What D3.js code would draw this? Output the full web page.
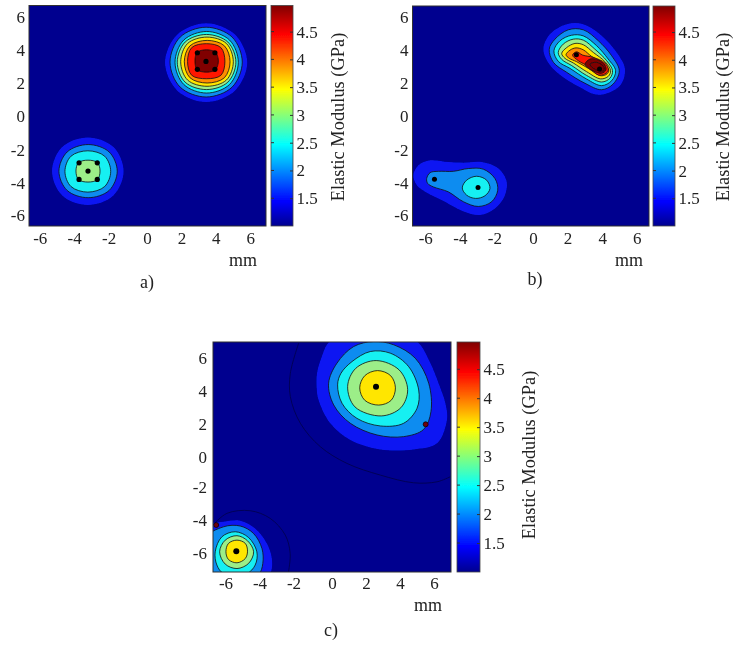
<!DOCTYPE html>
<html><head><meta charset="utf-8">
<style>html,body{margin:0;padding:0;background:#fff}svg{display:block}
text{font-family:"Liberation Serif","Times New Roman",serif;fill:#222}</style>
<script src="https://cdnjs.cloudflare.com/ajax/libs/d3/7.8.5/d3.min.js"></script></head>
<body><div id="chart"></div>
<script>
// Tick labels and text
const xyTicks = [-6,-4,-2,0,2,4,6];
const barTicks = [1.5,2,2.5,3,3.5,4,4.5];
const barLabel = "Elastic Modulus (GPa)";
const unitLabel = "mm";
// Colour bar: value range and jet colour stops (fraction, colour)
const barRange = [1.0,4.97];
const jetStops = [[0,"#00008f"],[0.11,"#0000ff"],[0.37,"#00ffff"],[0.62,"#ffff00"],[0.87,"#ff0000"],[1,"#800000"]];
// Filled band colours, lowest to highest
const bandColors = ["#00008f","#0a18f2","#0d8cf0","#14f0f2","#9cee88","#ffe600","#ff8c00","#ff1400","#800000"];

// Contours: [band index, [[x mm, y mm], ...]]
const panelAContours = [
 [1,[[5.83,3.23],[5.13,4.92],[3.44,5.62],[1.75,4.92],[1.05,3.23],[1.75,1.54],[3.44,.84],[5.13,1.54]]],
 [2,[[5.54,3.26],[4.95,4.78],[3.44,5.38],[1.93,4.78],[1.34,3.26],[1.93,1.74],[3.44,1.14],[4.95,1.74]]],
 [3,[[5.31,3.25],[4.8,4.6],[3.47,5.12],[2.14,4.6],[1.63,3.25],[2.14,1.9],[3.47,1.38],[4.8,1.9]]],
 [4,[[5.17,3.26],[4.7,4.48],[3.46,4.94],[2.22,4.48],[1.76,3.26],[2.22,2.04],[3.46,1.59],[4.7,2.04]]],
 [5,[[5.02,3.28],[4.62,4.39],[3.49,4.78],[2.36,4.39],[1.96,3.28],[2.36,2.17],[3.49,1.79],[4.62,2.17]]],
 [6,[[4.83,3.28],[4.5,4.25],[3.5,4.58],[2.5,4.25],[2.17,3.28],[2.5,2.31],[3.5,1.99],[4.5,2.31]]],
 [7,[[4.53,3.3],[4.3,4.14],[3.45,4.38],[2.6,4.14],[2.36,3.3],[2.6,2.46],[3.45,2.25],[4.3,2.46]]],
 [8,[[4.15,3.33],[3.98,3.85],[3.47,4.01],[2.92,3.85],[2.79,3.33],[2.92,2.8],[3.47,2.65],[3.98,2.8]]],
 [1,[[-1.36,-3.37],[-1.95,-1.9],[-3.44,-1.32],[-4.93,-1.9],[-5.52,-3.37],[-4.93,-4.84],[-3.44,-5.42],[-1.95,-4.84]]],
 [2,[[-1.73,-3.37],[-2.2,-2.2],[-3.42,-1.75],[-4.64,-2.2],[-5.12,-3.37],[-4.64,-4.54],[-3.42,-4.98],[-2.2,-4.54]]],
 [3,[[-2.11,-3.38],[-2.46,-2.46],[-3.44,-2.13],[-4.42,-2.46],[-4.77,-3.38],[-4.42,-4.3],[-3.44,-4.64],[-2.46,-4.3]]],
 [4,[[-2.73,-3.36],[-2.88,-2.85],[-3.43,-2.7],[-3.98,-2.85],[-4.13,-3.36],[-3.98,-3.88],[-3.43,-4.03],[-2.88,-3.88]]]
];
const panelAPoints = [[2.93,3.83],[3.95,3.83],[2.93,2.82],[3.95,2.82],[3.43,3.30],[-3.95,-2.86],[-2.89,-2.86],[-3.95,-3.87],[-2.89,-3.87],[-3.43,-3.36]];

const panelBContours = [
 [1,[[.6,4.07],[.98,4.98],[1.95,5.59],[2.91,5.59],[3.87,4.98],[4.84,3.87],[5.32,2.86],[5.03,1.85],[3.78,1.29],[2.72,1.75],[1.75,2.36],[.98,3.1]]],
 [2,[[.94,4.07],[1.27,4.68],[2.04,5.25],[2.91,5.25],[3.78,4.58],[4.55,3.67],[4.99,2.76],[4.64,1.95],[3.97,1.6],[3.01,1.99],[1.95,2.66],[1.18,3.27]]],
 [3,[[1.21,3.97],[1.56,4.58],[2.23,4.92],[2.91,4.88],[3.68,4.28],[4.35,3.47],[4.78,2.76],[4.55,2.15],[3.97,1.85],[3.1,2.25],[2.14,2.9],[1.46,3.33]]],
 [4,[[1.46,3.87],[1.75,4.38],[2.33,4.68],[2.91,4.62],[3.58,4.07],[4.26,3.37],[4.6,2.76],[4.45,2.3],[3.97,2.07],[3.1,2.47],[2.24,3.07],[1.66,3.45]]],
 [5,[[1.66,3.81],[1.95,4.17],[2.43,4.42],[2.91,4.34],[3.49,3.87],[4.16,3.31],[4.49,2.76],[4.36,2.42],[3.91,2.26],[3.1,2.7],[2.33,3.23],[1.85,3.51]]],
 [6,[[1.91,3.73],[2.14,4.01],[2.49,4.15],[2.91,4.03],[3.39,3.63],[4.07,3.23],[4.39,2.76],[4.22,2.52],[3.87,2.46],[3.2,2.9],[2.52,3.31],[2.1,3.51]]],
 [7,[[2.29,3.71],[2.52,3.91],[2.87,3.71],[3.49,3.57],[4.16,3.23],[4.36,2.8],[4.16,2.56],[3.78,2.5],[3.2,3.02],[2.62,3.37]]],
 [8,[[3.01,3.16],[3.3,3.47],[3.78,3.41],[4.16,3.1],[4.22,2.8],[3.97,2.6],[3.58,2.7],[3.2,2.92]]],
 [8,[[3.3,3.16],[3.68,3.27],[4.07,3.02],[4.1,2.76],[3.78,2.76],[3.49,2.9]]],
 [1,[[-6.92,-3.61],[-6.63,-3.0],[-5.95,-2.7],[-4.9,-2.8],[-4.03,-2.84],[-2.97,-2.8],[-2.0,-3.2],[-1.52,-4.01],[-1.66,-4.92],[-2.2,-5.63],[-3.06,-6.03],[-4.12,-5.77],[-5.09,-5.22],[-6.24,-4.62],[-6.73,-4.21]]],
 [2,[[-6.15,-3.81],[-5.95,-3.45],[-5.47,-3.37],[-4.61,-3.37],[-3.74,-3.2],[-2.87,-3.24],[-2.2,-3.81],[-2.04,-4.52],[-2.39,-5.22],[-3.16,-5.51],[-4.03,-5.22],[-4.9,-4.62],[-5.76,-4.32],[-6.09,-4.11]]],
 [3,[[-4.09,-4.38],[-3.84,-3.91],[-3.26,-3.67],[-2.68,-3.91],[-2.49,-4.42],[-2.78,-4.86],[-3.32,-5.02],[-3.84,-4.82]]]
];
const panelBPoints = [[2.51,3.73],[3.85,2.86],[-5.70,-3.85],[-3.18,-4.36]];

const panelCContours = [
 [1,[[-.14,7.03],[-.6,6.1],[-.88,5.1],[-.9,4.2],[-.79,3.47],[-.1,2.05],[1.08,1.03],[2.84,.46],[4.8,.46],[6.18,.83],[6.76,2.25],[6.67,3.27],[6.3,4.4],[5.75,5.8],[5.0,7.03],[2.45,8.2]]],
 [2,[[-.2,4.49],[.1,3.17],[1.08,2.05],[2.65,1.34],[4.21,1.24],[5.39,1.68],[5.82,2.76],[5.69,4.49],[4.9,6.01],[3.63,6.83],[2.45,7.03],[1.27,6.72],[.29,5.71]]],
 [3,[[.33,4.39],[.59,3.27],[1.47,2.35],[2.84,1.89],[4.21,2.05],[5.0,2.96],[5.1,4.08],[4.51,5.5],[3.43,6.32],[2.25,6.42],[1.18,5.81],[.53,5.1]]],
 [4,[[4.45,4.1],[3.95,5.3],[2.6,5.87],[1.4,5.4],[.92,4.3],[1.35,3.05],[2.9,2.5],[4.05,3.0]]],
 [5,[[3.73,4.21],[3.45,4.95],[2.68,5.26],[1.93,4.95],[1.63,4.21],[1.93,3.45],[2.75,3.16],[3.48,3.45]]],
 [1,[[-7.5,-4.25],[-6.38,-3.94],[-5.4,-3.88],[-4.52,-4.35],[-3.83,-5.26],[-3.54,-6.18],[-3.63,-7.09],[-4.5,-8],[-7.5,-8]]],
 [2,[[-7.5,-5.0],[-6.38,-4.25],[-5.4,-4.2],[-4.62,-4.65],[-4.12,-5.57],[-4.07,-6.48],[-4.32,-7.19],[-5.5,-8],[-7.5,-8]]],
 [3,[[-6.87,-5.77],[-6.48,-4.86],[-5.69,-4.55],[-4.91,-4.9],[-4.42,-5.77],[-4.52,-6.58],[-5.01,-7.09],[-6.38,-7.09],[-6.77,-6.58]]],
 [4,[[-6.61,-5.77],[-6.28,-5.06],[-5.59,-4.79],[-4.97,-5.1],[-4.61,-5.77],[-4.91,-6.48],[-5.59,-6.79],[-6.28,-6.52]]],
 [5,[[-6.24,-5.77],[-6.09,-5.26],[-5.59,-5.06],[-5.1,-5.26],[-4.97,-5.73],[-5.1,-6.18],[-5.59,-6.44],[-6.09,-6.24]]]
];
const panelCOpenLines = [
 [[-1.96,6.93],[-2.45,5.1],[-2.45,3.67],[-1.86,2.05],[-.69,.63],[.88,-.39],[2.84,-1.1],[4.8,-1.57],[6.18,-1.51],[6.96,-1.2]],
 [[-7.0,-4.14],[-6.18,-3.43],[-4.81,-3.27],[-3.63,-3.74],[-2.75,-4.75],[-2.46,-5.87],[-2.56,-6.99]]
];
const panelCPoints = [[2.59,4.28],[-5.63,-5.73]];
const panelCRedPoints = [[5.51,1.99],[-6.81,-4.14]];

// Page layout of each panel
const W = 739, H = 648;
const panels = [
 {id:"a",cap:"a)",contours:panelAContours,lines:[],pts:panelAPoints,red:[],dot:2.6,
  xDom:[-6.86,6.92],yDom:[-6.70,6.70],L:29,R:266,T:5.5,B:226,barL:271,barR:293,
  capX:147,capY:288,mmX:243,mmY:266,titleX:340,titleY:117,xPad:5.5,yPad:4,negX:-4,negY:1},
 {id:"b",cap:"b)",contours:panelBContours,lines:[],pts:panelBPoints,red:[],dot:2.5,
  xDom:[-6.97,6.71],yDom:[-6.70,6.70],L:412.5,R:649,T:6,B:226,barL:653,barR:675,
  capX:535,capY:285,mmX:629,mmY:266,titleX:725,titleY:117,xPad:5.5,yPad:4,negX:-4,negY:1},
 {id:"c",cap:"c)",contours:panelCContours,lines:panelCOpenLines,pts:panelCPoints,red:panelCRedPoints,dot:3,
  xDom:[-7,7],yDom:[-7,7],L:213,R:451,T:342,B:572,barL:457,barR:480,
  capX:331,capY:636,mmX:428,mmY:611,titleX:531,titleY:455,xPad:4.5,yPad:6,negX:-4.5,negY:-3}
];

const svg = d3.select("#chart").append("svg").attr("width",W).attr("height",H);
const defs = svg.append("defs");
const soft = defs.append("filter").attr("id","soft").attr("x","-5%").attr("y","-5%").attr("width","110%").attr("height","110%");
soft.append("feGaussianBlur").attr("stdDeviation",0.45);
const grad = defs.append("linearGradient").attr("id","jet").attr("x1",0).attr("x2",0).attr("y1",1).attr("y2",0);
grad.selectAll("stop").data(jetStops).join("stop")
  .attr("offset",d=>d[0]).attr("stop-color",d=>d[1]);

const root = svg.append("g").attr("filter","url(#soft)");

panels.forEach(p=>{
  const x = d3.scaleLinear().domain(p.xDom).range([p.L,p.R]);
  const y = d3.scaleLinear().domain(p.yDom).range([p.B,p.T]);
  const g = root.append("g");
  const clipId = "clip-"+p.id;
  defs.append("clipPath").attr("id",clipId).append("rect")
    .attr("x",p.L).attr("y",p.T).attr("width",p.R-p.L).attr("height",p.B-p.T);
  const plot = g.append("g").attr("clip-path",`url(#${clipId})`);
  plot.append("rect").attr("x",p.L).attr("y",p.T).attr("width",p.R-p.L).attr("height",p.B-p.T).attr("fill",bandColors[0]);
  const closed = d3.line().x(d=>x(d[0])).y(d=>y(d[1])).curve(d3.curveCatmullRomClosed.alpha(0.5));
  const open = d3.line().x(d=>x(d[0])).y(d=>y(d[1])).curve(d3.curveCatmullRom.alpha(0.5));
  plot.selectAll("path.band").data(p.contours).join("path").attr("class","band")
    .attr("d",d=>closed(d[1])).attr("fill",d=>bandColors[d[0]])
    .attr("stroke",d=>d[0]===1?"none":"#101010").attr("stroke-width",0.8);
  plot.selectAll("path.iso").data(p.lines).join("path").attr("class","iso")
    .attr("d",open).attr("fill","none").attr("stroke","#000050").attr("stroke-width",0.9);
  plot.selectAll("circle.pt").data(p.pts).join("circle").attr("class","pt")
    .attr("cx",d=>x(d[0])).attr("cy",d=>y(d[1])).attr("r",p.dot).attr("fill","#000");
  plot.selectAll("circle.rd").data(p.red).join("circle").attr("class","rd")
    .attr("cx",d=>x(d[0])).attr("cy",d=>y(d[1])).attr("r",2.5).attr("fill","#700010").attr("stroke","#000").attr("stroke-width",.7);
  g.append("rect").attr("x",p.L).attr("y",p.T).attr("width",p.R-p.L).attr("height",p.B-p.T)
    .attr("fill","none").attr("stroke","#333").attr("stroke-width",1);

  const xAxis = g.append("g").attr("transform",`translate(0,${p.B})`)
    .call(d3.axisBottom(x).tickValues(xyTicks).tickSize(0).tickPadding(p.xPad).tickFormat(String));
  const yAxis = g.append("g").attr("transform",`translate(${p.L},0)`)
    .call(d3.axisLeft(y).tickValues(xyTicks).tickSize(0).tickPadding(p.yPad).tickFormat(String));
  [xAxis,yAxis].forEach(a=>{a.select(".domain").remove();
    a.selectAll("text").attr("font-size",17);a.attr("font-family",null);});
  xAxis.selectAll("text").attr("dx",d=>d<0?p.negX:0);
  yAxis.selectAll("text").attr("transform",d=>d<0?`translate(0,${p.negY})`:null);

  // colour bar
  const v = d3.scaleLinear().domain(barRange).range([p.B,p.T]);
  g.append("rect").attr("x",p.barL).attr("y",p.T).attr("width",p.barR-p.barL).attr("height",p.B-p.T)
    .attr("fill","url(#jet)").attr("stroke","#444").attr("stroke-width",.8);
  const bar = g.append("g").attr("transform",`translate(${p.barR},0)`)
    .call(d3.axisRight(v).tickValues(barTicks).tickSizeInner(-3).tickSizeOuter(0).tickPadding(3).tickFormat(String));
  bar.select(".domain").remove();bar.attr("font-family",null);
  bar.selectAll("text").attr("font-size",17).attr("x",3.5);
  bar.selectAll("line").attr("stroke","#333");
  g.append("g").selectAll("line").data(barTicks).join("line")
    .attr("x1",p.barL).attr("x2",p.barL+3).attr("y1",d=>v(d)).attr("y2",d=>v(d)).attr("stroke","#333");

  g.append("text").attr("x",p.mmX).attr("y",p.mmY).attr("text-anchor","middle").attr("font-size",18).text(unitLabel);
  g.append("text").attr("x",p.capX).attr("y",p.capY).attr("text-anchor","middle").attr("font-size",18).text(p.cap);
  g.append("text").attr("text-anchor","middle").attr("dominant-baseline","middle").attr("font-size",18.4)
    .attr("transform",`translate(${p.titleX},${p.titleY}) rotate(-90)`).text(barLabel);
});
</script></body></html>
